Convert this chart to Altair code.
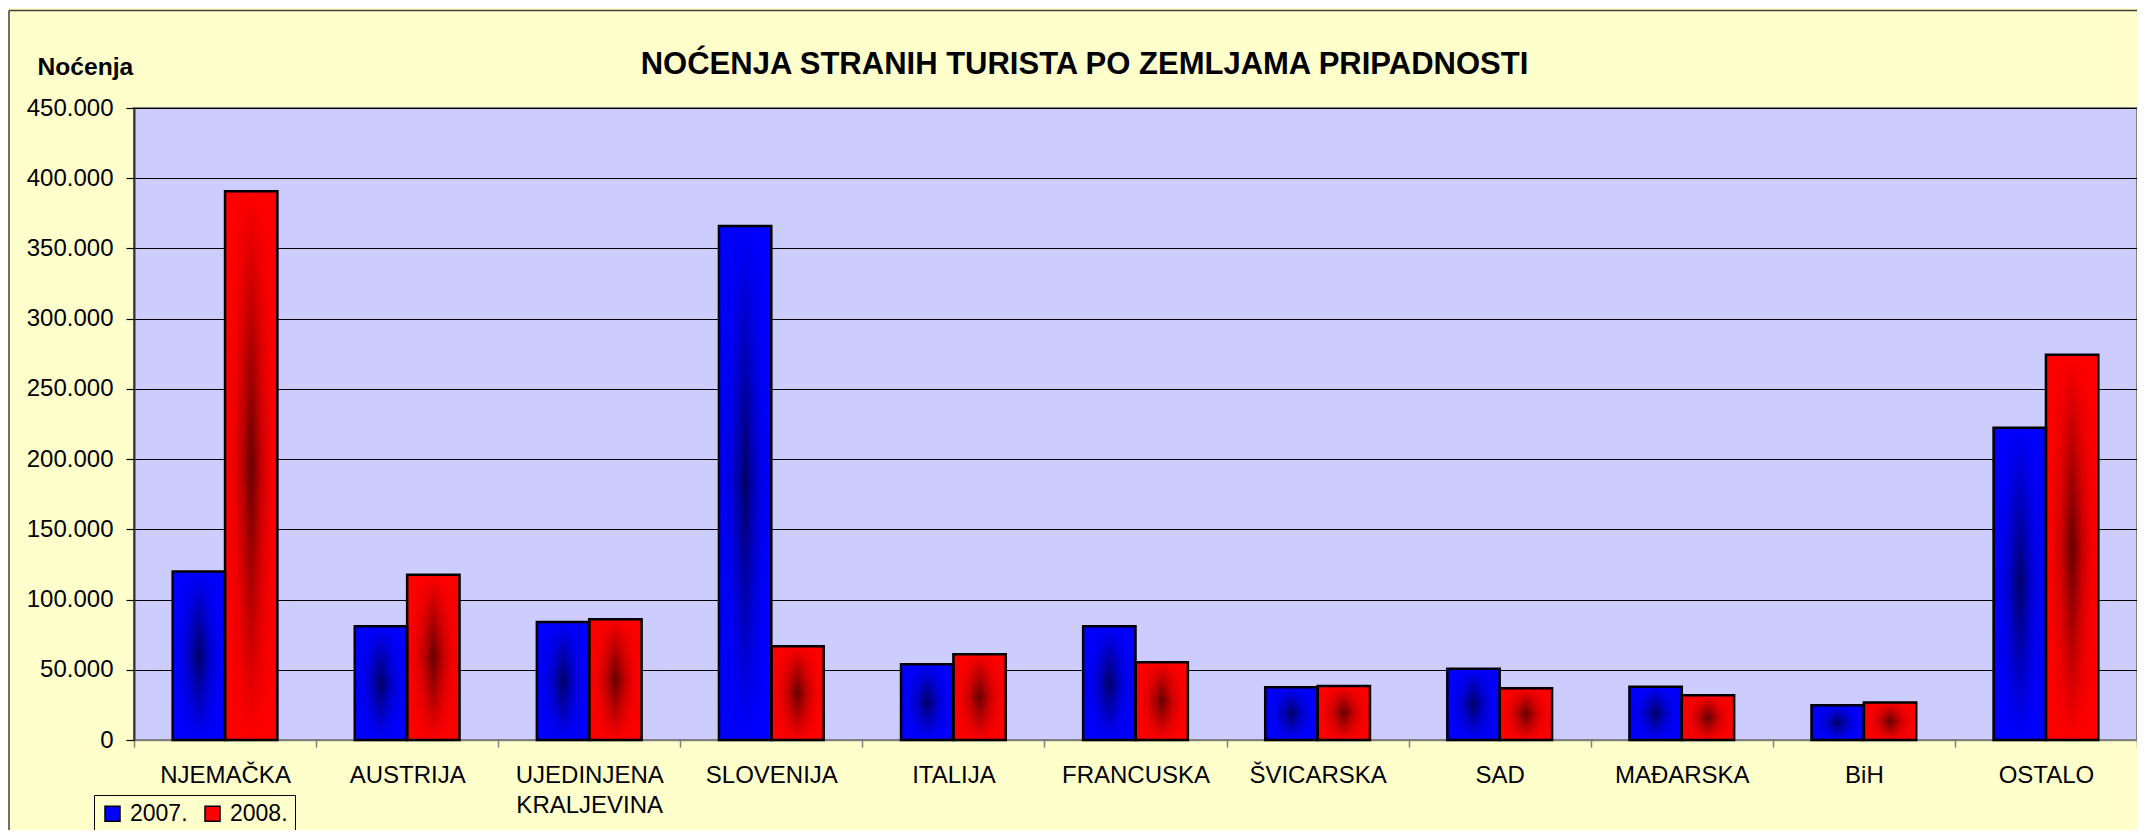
import altair as alt
import pandas as pd

# ---------------- data ----------------
countries = ["NJEMAČKA", "AUSTRIJA", "UJEDINJENA KRALJEVINA", "SLOVENIJA", "ITALIJA",
             "FRANCUSKA", "ŠVICARSKA", "SAD", "MAĐARSKA", "BiH", "OSTALO"]
years = ["2007.", "2008."]
values_2007 = [120000, 81000, 84000, 366000, 54000, 81000, 37500, 50700, 37900, 24800, 222400]
values_2008 = [390800, 117700, 86000, 66800, 61000, 55300, 38500, 36900, 31900, 26700, 274300]
y_ticks = [0, 50000, 100000, 150000, 200000, 250000, 300000, 350000, 400000, 450000]
chart_title = "NOĆENJA STRANIH TURISTA PO ZEMLJAMA PRIPADNOSTI"
y_title = "Noćenja"
series_colors = ["#0000FF", "#FF0000"]

rows = []
for c, a, b in zip(countries, values_2007, values_2008):
    rows.append({"country": c, "year": years[0], "value": a})
    rows.append({"country": c, "year": years[1], "value": b})
df = pd.DataFrame(rows)

FONT = "Liberation Sans"
W, H = 2003, 632
PAD = {"left": 126, "top": 100, "right": 0, "bottom": 90}

x_enc = alt.X(
    "country:N",
    sort=countries,
    scale=alt.Scale(domain=countries, paddingInner=0, paddingOuter=0),
    axis=alt.Axis(
        title=None, tickBand="extent", labelAngle=0, labelFont=FONT, labelFontSize=24,
        labelColor="black", labelBaseline="alphabetic", labelPadding=35, labelLineHeight=30,
        labelExpr="split(datum.label, ' ')", labelLimit=400, tickSize=7, tickColor="#808080",
        tickWidth=1.5, domainColor="#808080", domainWidth=1.5, grid=False,
    ),
)
xoff_enc = alt.XOffset("year:N", scale=alt.Scale(domain=years, paddingInner=0, paddingOuter=0.7385))
y_enc = alt.Y(
    "value:Q",
    scale=alt.Scale(domain=[0, 450000], nice=False),
    axis=alt.Axis(
        values=y_ticks,
        labelExpr="replace(format(datum.value, ','), regexp(',', 'g'), '.')",
        labelFont=FONT, labelFontSize=24, labelColor="black", labelPadding=13,
        tickSize=8, tickColor="black", tickWidth=1.2, domainColor="#333333", domainWidth=2,
        grid=True, gridColor="black", gridWidth=1, gridOpacity=1,
        title=y_title, titleAngle=0, titleAlign="left", titleBaseline="alphabetic",
        titleX=-97, titleY=-34, titleFont=FONT, titleFontSize=24.6, titleFontWeight="bold",
        titleColor="black",
    ),
)

base = alt.Chart(df).mark_bar().encode(
    x=x_enc, xOffset=xoff_enc, y=y_enc,
    color=alt.Color(
        "year:N",
        scale=alt.Scale(domain=years, range=series_colors),
        legend=alt.Legend(
            title=None, orient="none", legendX=-40, legendY=687, direction="horizontal",
            symbolType="square", symbolSize=225, symbolStrokeColor="black",
            symbolStrokeWidth=1.5, symbolOpacity=1, labelFont=FONT, labelFontSize=23,
            labelColor="black", labelOffset=6, columnPadding=13, padding=7,
            strokeColor="black", fillColor="#FFFFCC",
        ),
    ),
)

dark_grad = {
    "gradient": "linear", "x1": 0, "x2": 1, "y1": 0, "y2": 0,
    "stops": [
        {"offset": 0.0, "color": "rgba(0,0,0,0)"},
        {"offset": 0.15, "color": "rgba(0,0,0,0.06)"},
        {"offset": 0.3, "color": "rgba(0,0,0,0.22)"},
        {"offset": 0.42, "color": "rgba(0,0,0,0.45)"},
        {"offset": 0.5, "color": "rgba(0,0,0,0.6)"},
        {"offset": 0.58, "color": "rgba(0,0,0,0.45)"},
        {"offset": 0.7, "color": "rgba(0,0,0,0.22)"},
        {"offset": 0.85, "color": "rgba(0,0,0,0.06)"},
        {"offset": 1.0, "color": "rgba(0,0,0,0)"},
    ],
}
dark = alt.Chart(df).mark_bar(color=dark_grad).encode(x=x_enc, xOffset=xoff_enc, y=y_enc)


def bright_grad(rgb):
    return {
        "gradient": "linear", "x1": 0, "x2": 0, "y1": 0, "y2": 1,
        "stops": [
            {"offset": 0.0, "color": f"rgba({rgb},1)"},
            {"offset": 0.5, "color": f"rgba({rgb},0)"},
            {"offset": 1.0, "color": f"rgba({rgb},1)"},
        ],
    }


bright07 = alt.Chart(df).transform_filter(alt.datum.year == years[0]).mark_bar(
    color=bright_grad("0,0,255")).encode(x=x_enc, xOffset=xoff_enc, y=y_enc)
bright08 = alt.Chart(df).transform_filter(alt.datum.year == years[1]).mark_bar(
    color=bright_grad("255,0,0")).encode(x=x_enc, xOffset=xoff_enc, y=y_enc)

outline = alt.Chart(df).mark_bar(fillOpacity=0, stroke="black", strokeWidth=2.5).encode(
    x=x_enc, xOffset=xoff_enc, y=y_enc)

one = pd.DataFrame({"t": [chart_title]})
title_layer = alt.Chart(one).mark_text(
    font=FONT, fontSize=31, fontWeight="bold", align="left", baseline="alphabetic", color="black"
).encode(text="t:N", x=alt.value(506.7), y=alt.value(-33.7))

frame_left = alt.Chart(one).mark_rule(color="#404040", strokeWidth=1.5).encode(
    x=alt.value(-125), y=alt.value(-97.5), y2=alt.value(H + PAD["bottom"]))
frame_top = alt.Chart(one).mark_rule(color="#404040", strokeWidth=1.5).encode(
    x=alt.value(-125), x2=alt.value(W + PAD["right"]), y=alt.value(-97.5))

chart = alt.layer(base, dark, bright07, bright08, outline, title_layer, frame_left, frame_top).properties(
    width=W, height=H,
    autosize=alt.AutoSizeParams(type="none"),
    padding=PAD,
    background="#FFFFCC",
).configure_view(fill="#CCCCFF", stroke="#808080", strokeWidth=2)

chart.save("out.html", embed_options={"renderer": "svg", "actions": False})
